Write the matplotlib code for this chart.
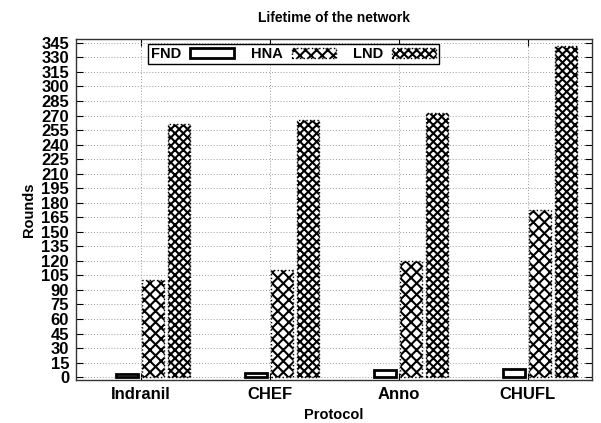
import numpy as np
import matplotlib
matplotlib.use("Agg")
import matplotlib.pyplot as plt

protocols = ["Indranil", "CHEF", "Anno", "CHUFL"]
fnd = [3, 4, 7, 8]
hna = [100, 111, 120, 172]
lnd = [261, 265, 273, 342]
yticks = list(range(0, 346, 15))

plt.rcParams["font.family"] = ["Liberation Sans", "DejaVu Sans"]
plt.rcParams["font.weight"] = "bold"
plt.rcParams["hatch.linewidth"] = 1.5

fig = plt.figure(figsize=(6.01, 4.23), dpi=100)
ax = fig.add_axes([76 / 601, 1 - 380 / 423, 516 / 601, 341 / 423])

x = np.arange(len(protocols))
w = 0.17
ax.bar(x - 0.105, fnd, w, color="white", edgecolor="black", linewidth=2.0, label="FND", zorder=3)
ax.bar(x + 0.095, hna, w, color="white", edgecolor="black", hatch="xxx", linewidth=1.0,
       linestyle=":", label="HNA", zorder=3)
ax.bar(x + 0.295, lnd, w, color="white", edgecolor="black", hatch="xxxx", linewidth=1.0,
       linestyle=":", label="LND", zorder=3)

ax.set_xlim(-0.5, 3.5)
ax.set_ylim(-3, 349)
ax.set_xticks(x)
ax.set_xticklabels(protocols, fontsize=12, fontweight="bold")
ax.set_yticks(yticks)
ax.set_yticklabels([str(t) for t in yticks], fontsize=12, fontweight="bold")
ax.tick_params(direction="in", top=True, right=True, length=5, width=0.8, pad=5)
ax.grid(True, linestyle=(0, (1, 2)), color="#999999", linewidth=0.7, zorder=0)
for s in ax.spines.values():
    s.set_linewidth(1.0)
    s.set_color("#333333")

ax.set_title("Lifetime of the network", fontsize=10, fontweight="bold", pad=12)
ax.set_xlabel("Protocol", fontsize=10.5, fontweight="bold", labelpad=4)
ax.set_ylabel("Rounds", fontsize=10.5, fontweight="bold", labelpad=4)

leg = ax.legend(ncol=3, loc="upper left", bbox_to_anchor=(0.14, 0.985), markerfirst=False,
                fancybox=False, framealpha=1, edgecolor="black", fontsize=10.5,
                handlelength=3.0, handleheight=0.6, columnspacing=1.2,
                borderpad=0.2, handletextpad=0.6, borderaxespad=0)
leg.get_frame().set_linewidth(1.0)

fig.savefig("out.png", dpi=100)
